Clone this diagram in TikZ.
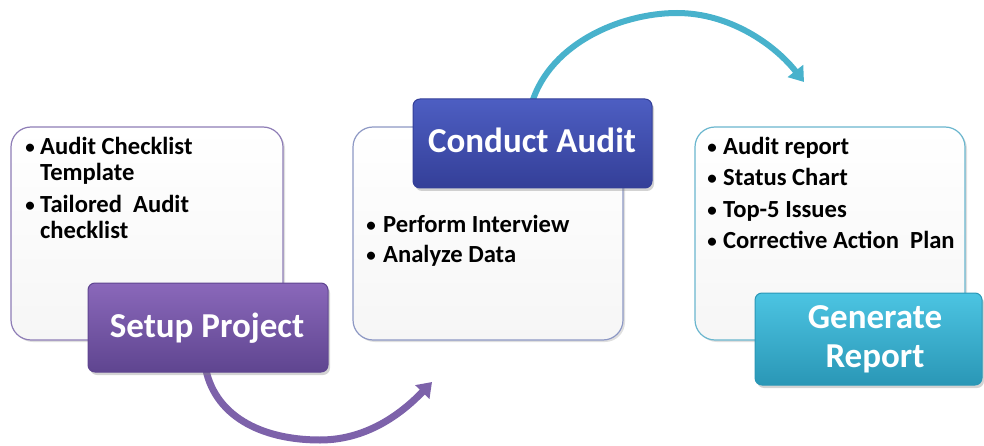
\documentclass[tikz,border=0pt]{standalone}
\usepackage{fontspec}
\setmainfont{Carlito}
\usetikzlibrary{arrows.meta,shadows}
\definecolor{pupTop}{HTML}{8A68BA}
\definecolor{pupBot}{HTML}{5F4590}
\definecolor{bluTop}{HTML}{4D5EC2}
\definecolor{bluBot}{HTML}{343F98}
\definecolor{tealTop}{HTML}{4CC4E2}
\definecolor{tealBot}{HTML}{2A97B6}
\definecolor{pupArrow}{HTML}{7D62AA}
\definecolor{tealArrow}{HTML}{48B2CC}
\definecolor{pupLine}{HTML}{8E7DB6}
\definecolor{bluLine}{HTML}{8D98C4}
\definecolor{tealLine}{HTML}{6AB6CE}
\tikzset{
  whitebox/.style={rounded corners=20pt, line width=1.2pt, top color=white, bottom color=gray!7,
    drop shadow={opacity=0.25, shadow xshift=2pt, shadow yshift=-2pt}},
  titlebox/.style={rounded corners=7pt, line width=1pt,
    drop shadow={opacity=0.35, shadow xshift=2pt, shadow yshift=-3pt}},
  titletext/.style={text=white, font=\fontsize{35}{39}\selectfont\bfseries, inner sep=0pt, anchor=base, align=center},
  itemtext/.style={font=\fontsize{24.6}{26}\selectfont\bfseries, inner sep=0pt, anchor=base west},
  bul/.style={font=\fontsize{19}{26}\selectfont\bfseries, inner sep=0pt, anchor=base},
  flowarrow/.style={line width=7pt, -{Triangle[width=19pt,length=14pt]}},
}
\begin{document}
\begin{tikzpicture}[x=1pt,y=1pt]
\useasboundingbox (0,0) rectangle (984,445);
% white content boxes
\draw[whitebox, draw=pupLine] (11,105) rectangle (283,318);
\draw[whitebox, draw=bluLine] (353,105) rectangle (623,318);
\draw[whitebox, draw=tealLine] (695,105) rectangle (965,318);
% box 1 items
\node[bul] (b1a) at (30,291) {•};
\node[itemtext] (t1a) at (40,290) {Audit Checklist};
\node[itemtext] (t1b) at (40,265) {Template};
\node[bul] (b1b) at (30,234) {•};
\node[itemtext] (t1c) at (40,233) {Tailored\ \ Audit};
\node[itemtext] (t1d) at (40,207) {checklist};
% box 2 items
\node[bul] (b2a) at (371,214) {•};
\node[itemtext] (t2a) at (383,213) {Perform Interview};
\node[bul] (b2b) at (371,184) {•};
\node[itemtext] (t2b) at (383,183) {Analyze Data};
% box 3 items
\node[bul] (b3a) at (712,291) {•};
\node[itemtext] (t3a) at (723,290) {Audit report};
\node[bul] (b3b) at (712,260) {•};
\node[itemtext] (t3b) at (723,259) {Status Chart};
\node[bul] (b3c) at (712,229) {•};
\node[itemtext] (t3c) at (723,228) {Top-5 Issues};
\node[bul] (b3d) at (712,198) {•};
\node[itemtext] (t3d) at (723,197) {Corrective Action\ \ Plan};
% curved arrows
\coordinate (a1s) at (205,80);
\coordinate (a1m) at (320,5);
\coordinate (a1e) at (432,63);
\draw[flowarrow, draw=pupArrow] (a1s) .. controls (213,30) and (260,5) .. (a1m)
   .. controls (370,5) and (405,35) .. (a1e);
\coordinate (a2s) at (530,335);
\coordinate (a2m) at (677,432);
\coordinate (a2e) at (804,363);
\draw[flowarrow, line width=6pt, draw=tealArrow] (a2s) .. controls (545,400) and (620,432) .. (a2m)
   .. controls (730,432) and (775,400) .. (a2e);
% title boxes
\node[titlebox, draw=pupBot, top color=pupTop, bottom color=pupBot, minimum width=240pt, minimum height=89pt, inner sep=0pt] (setup) at (208,117.5) {};
\node[titletext] (setupT) at (207,108) {Setup Project};
\node[titlebox, draw=bluBot, top color=bluTop, bottom color=bluBot, minimum width=239pt, minimum height=89pt, inner sep=0pt] (conduct) at (532.5,301.5) {};
\node[titletext] (conductT) at (532,292) {Conduct Audit};
\node[titlebox, draw=tealBot, top color=tealTop, bottom color=tealBot, minimum width=227pt, minimum height=92pt, inner sep=0pt] (generate) at (868.5,106) {};
\node[titletext] (generateT) at (875,78) {Generate\\Report};
\end{tikzpicture}
\end{document}
